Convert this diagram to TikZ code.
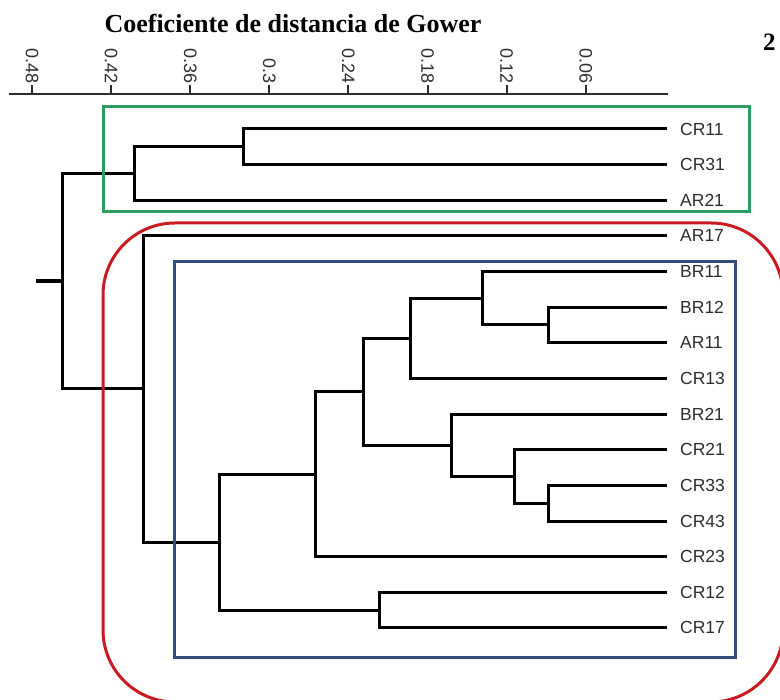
\documentclass[tikz,border=0pt]{standalone}
\usepackage{fontspec}
\setmainfont{Liberation Serif}
\setsansfont{Liberation Sans}
\usetikzlibrary{positioning}
\definecolor{gowgreen}{RGB}{44,160,96}
\definecolor{gowblue}{RGB}{52,78,124}
\definecolor{gowred}{RGB}{200,28,34}
\definecolor{labgray}{RGB}{45,45,45}

\begin{document}
\begin{tikzpicture}[x=1pt,y=-1pt,
    branch/.style={line width=3pt, black},
    leaf/.style={anchor=west, font=\fontsize{17.5}{18}\selectfont\sffamily, text=labgray, inner sep=0pt},
    ticklab/.style={rotate=-90, anchor=east, font=\fontsize{18}{18}\selectfont\sffamily, text=labgray, inner sep=0pt},
    group/.style={line width=3pt}]
    \useasboundingbox (0,0) rectangle (780,700);
    \clip (0,0) rectangle (780,700);

    % Title and axis
    \node[font=\fontsize{26}{28}\selectfont\bfseries] (title) at (293,23) {Coeficiente de distancia de Gower};
    \node[font=\fontsize{25}{28}\selectfont\bfseries, anchor=west, inner sep=0pt] (page) at (763,42) {2};
    \coordinate (axL) at (9,94);
    \coordinate (axR) at (668,94);
    \draw[line width=2pt, labgray] (axL) -- (axR);
    \foreach \v [count=\i from 0] in {0.48,0.42,0.36,0.3,0.24,0.18,0.12,0.06} {
        \draw[line width=2pt, labgray] (32+79.1*\i,94) -- (32+79.1*\i,85);
        \node[ticklab] (tick\i) at (32+79.1*\i,84) {\v};
    }

    % Leaves
    \foreach \n [count=\i from 0] in {CR11,CR31,AR21,AR17,BR11,BR12,AR11,CR13,BR21,CR21,CR33,CR43,CR23,CR12,CR17} {
        \coordinate (\n) at (667,129+35.64*\i);
        \node[leaf] (lab\n) at (680,129+35.64*\i) {\n};
    }

    % Junctions
    \coordinate (jA) at (243,146.8);
    \coordinate (jB) at (134,173.5);
    \coordinate (jC) at (548,325);
    \coordinate (jD) at (482,298.3);
    \coordinate (jE) at (410,338.4);
    \coordinate (jF) at (548,503.2);
    \coordinate (jG) at (514,476.5);
    \coordinate (jH) at (451,445.3);
    \coordinate (jI) at (363,391.9);
    \coordinate (jJ) at (315,474.3);
    \coordinate (jK) at (379,610.2);
    \coordinate (jL) at (219,542.2);
    \coordinate (jM) at (143,389);
    \coordinate (root) at (62,281);
    \coordinate (stub) at (36,281);

    % Dendrogram
    \foreach \p/\c in {jA/CR11,jA/CR31,jB/jA,jB/AR21,jC/BR12,jC/AR11,jD/BR11,jD/jC,
                       jE/jD,jE/CR13,jF/CR33,jF/CR43,jG/CR21,jG/jF,jH/BR21,jH/jG,
                       jI/jE,jI/jH,jJ/jI,jJ/CR23,jK/CR12,jK/CR17,jL/jJ,jL/jK,
                       jM/AR17,jM/jL,root/jB,root/jM}
        \draw[branch] (\p) |- (\c);
    \draw[line width=3.8pt] (root) -- (stub);

    % Groups
    \draw[group, gowgreen] (103,107) rectangle (749,212);
    \draw[group, gowred, rounded corners=72pt] (103,223) rectangle (783,702);
    \draw[group, gowblue] (174,262) rectangle (735,657);
\end{tikzpicture}
\end{document}
